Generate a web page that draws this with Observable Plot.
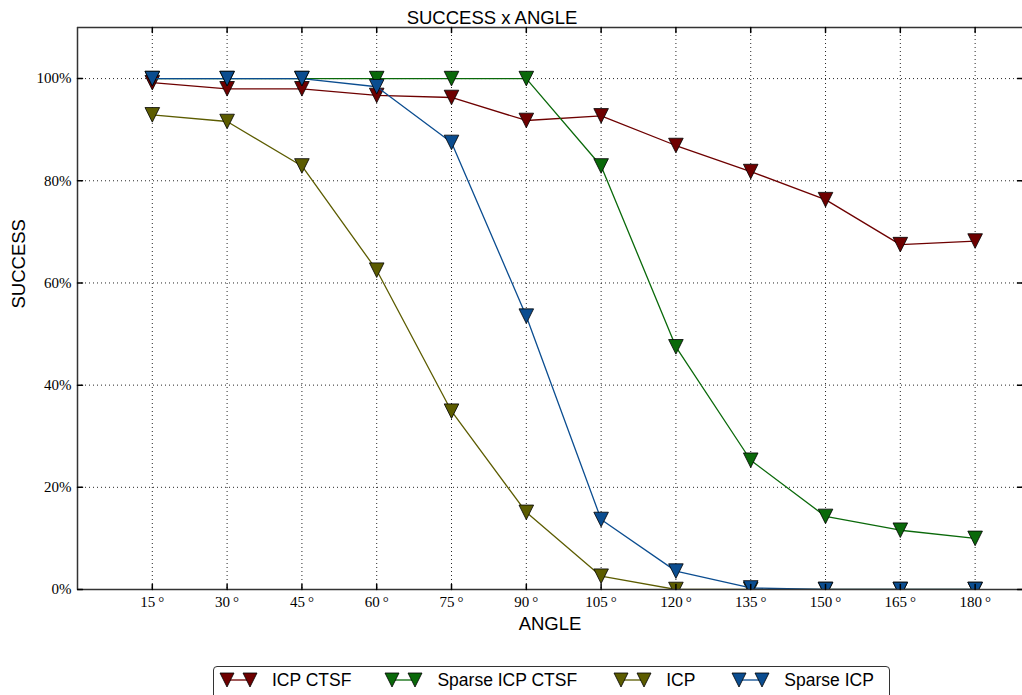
<!DOCTYPE html>
<html><head><meta charset="utf-8">
<script src="https://cdn.jsdelivr.net/npm/d3@7"></script>
<script src="https://cdn.jsdelivr.net/npm/@observablehq/plot@0.6"></script>
<style>
body{margin:0;background:#fff;width:1022px;height:695px;overflow:hidden;position:relative;font-family:"Liberation Sans",Arial,sans-serif;}
#chart svg{display:block;}
#chart text.tick-label{font-size:15px !important;font-family:"Liberation Serif",serif !important;}
#legend{position:absolute;left:213px;top:666px;width:677px;height:44px;box-sizing:border-box;border:1.5px solid #333;border-radius:4px;background:#fff;display:flex;align-items:flex-start;padding:0 0 0 5px;}
.item{display:flex;align-items:center;height:26px;font-size:17.5px;color:#000;}
.item svg{display:block;margin-right:13px;}
</style></head><body>
<div id="chart"></div>
<div id="legend"></div>
<script>
const angles = [15, 30, 45, 60, 75, 90, 105, 120, 135, 150, 165, 180];
const seriesNames = ["ICP CTSF", "Sparse ICP CTSF", "ICP", "Sparse ICP"];
const icpCtsf       = [99.2, 98.0, 98.0, 96.7, 96.3, 91.8, 92.7, 86.9, 81.8, 76.3, 67.5, 68.2];
const sparseIcpCtsf = [100, 100, 100, 100, 100, 100, 82.9, 47.5, 25.3, 14.3, 11.6, 10.0];
const icp           = [92.9, 91.6, 82.9, 62.5, 34.9, 15.1, 2.6, 0, 0, 0, 0, 0];
const sparseIcp     = [100, 100, 100, 98.4, 87.5, 53.5, 13.7, 3.6, 0.3, 0, 0, 0];
const yTicks = [0, 20, 40, 60, 80, 100];
const xTickLabels = angles.map(a => `${a}\u2009°`);
const yTickLabels = yTicks.map(v => `${v}%`);

const colors = ["#6e0000", "#0a690a", "#5c5c00", "#0b4d90"];
const allSeries = [icpCtsf, sparseIcpCtsf, icp, sparseIcp];

const rows = [];
allSeries.forEach((vals, i) => vals.forEach((v, j) => rows.push({series: seriesNames[i], angle: angles[j], success: v})));

const tri = {draw(ctx, size) { const s = Math.sqrt(size / Math.PI); ctx.moveTo(0, s); ctx.lineTo(-s, -s); ctx.lineTo(s, -s); ctx.closePath(); }};
const tickShape = {draw(ctx, l) { ctx.moveTo(0, 0); ctx.lineTo(0, -l); }};

const serif = "Liberation Serif";
const sans = "Liberation Sans";
const gridStyle = {stroke: "#000", strokeOpacity: 0.85, strokeDasharray: "1,3", strokeWidth: 1};

const seriesMarks = [];
seriesNames.forEach((name, i) => {
  const data = rows.filter(r => r.series === name);
  seriesMarks.push(Plot.line(data, {x: "angle", y: "success", stroke: colors[i], strokeWidth: 1.3, clip: true}));
  seriesMarks.push(Plot.dot(data, {x: "angle", y: "success", symbol: tri, r: 7.3, fill: colors[i], stroke: "#000", strokeWidth: 0.8, clip: true}));
});

const chart = Plot.plot({
  width: 1022, height: 650,
  marginLeft: 77, marginRight: 0, marginTop: 27, marginBottom: 61,
  x: {domain: [0, 189.5], axis: null},
  y: {domain: [0, 110], axis: null},
  style: {background: "#fff", color: "#000"},
  marks: [
    Plot.gridX(angles, gridStyle),
    Plot.gridY(yTicks.filter(v => v > 0), gridStyle),
    ...seriesMarks,
    Plot.ruleY([0, 110], {stroke: "#333", strokeWidth: 1.5}),
    Plot.ruleX([0], {stroke: "#333", strokeWidth: 1.5}),
    Plot.vector(angles, {x: d => d, y: 0, length: 5, anchor: "start", rotate: 0, shape: tickShape, stroke: "#000"}),
    Plot.vector(angles, {x: d => d, y: 110, length: 5, anchor: "start", rotate: 180, shape: tickShape, stroke: "#000"}),
    Plot.vector(yTicks, {x: 0, y: d => d, length: 5, anchor: "start", rotate: 90, shape: tickShape, stroke: "#000"}),
    Plot.vector(yTicks, {x: 189.5, y: d => d, length: 5, anchor: "start", rotate: 270, shape: tickShape, stroke: "#000"}),
    Plot.text(angles, {x: d => d, y: 0, text: (d, i) => xTickLabels[i], lineAnchor: "middle", dy: 13, fontSize: "15px", fontFamily: serif, fill: "#000", className: "tick-label"}),
    Plot.text(yTicks, {x: 0, y: d => d, text: (d, i) => yTickLabels[i], textAnchor: "end", lineAnchor: "middle", dx: -6, fontSize: "15px", fontFamily: serif, fill: "#000", className: "tick-label"}),
    Plot.text(["SUCCESS x ANGLE"], {frameAnchor: "top", lineAnchor: "middle", dx: -58, dy: -9, fontSize: 18.5, fontFamily: sans, fill: "#000"}),
    Plot.text(["ANGLE"], {frameAnchor: "bottom", lineAnchor: "middle", dy: 35, fontSize: 18.5, fontFamily: sans, fill: "#000"}),
    Plot.text(["SUCCESS"], {frameAnchor: "left", lineAnchor: "middle", dx: -58, rotate: -90, fontSize: 18.5, fontFamily: sans, fill: "#000"})
  ]
});
document.getElementById("chart").appendChild(chart);
chart.querySelectorAll("g.tick-label text").forEach(t => t.classList.add("tick-label"));

// legend
const legend = document.getElementById("legend");
const gaps = [33, 36, 36, 0];
seriesNames.forEach((name, i) => {
  const item = document.createElement("div");
  item.className = "item";
  item.style.marginRight = gaps[i] + "px";
  const ns = "http://www.w3.org/2000/svg";
  const svg = document.createElementNS(ns, "svg");
  svg.setAttribute("width", 40); svg.setAttribute("height", 20);
  const line = document.createElementNS(ns, "line");
  line.setAttribute("x1", 8); line.setAttribute("x2", 31); line.setAttribute("y1", 10); line.setAttribute("y2", 10);
  line.setAttribute("stroke", colors[i]); line.setAttribute("stroke-width", 1.3);
  svg.appendChild(line);
  [8, 31].forEach(cx => {
    const p = document.createElementNS(ns, "path");
    p.setAttribute("d", `M${cx},17 L${cx - 7},3 L${cx + 7},3 Z`);
    p.setAttribute("fill", colors[i]); p.setAttribute("stroke", "#000"); p.setAttribute("stroke-width", 0.8);
    svg.appendChild(p);
  });
  item.appendChild(svg);
  const t = document.createElement("span");
  t.textContent = name;
  item.appendChild(t);
  legend.appendChild(item);
});
</script>
</body></html>
